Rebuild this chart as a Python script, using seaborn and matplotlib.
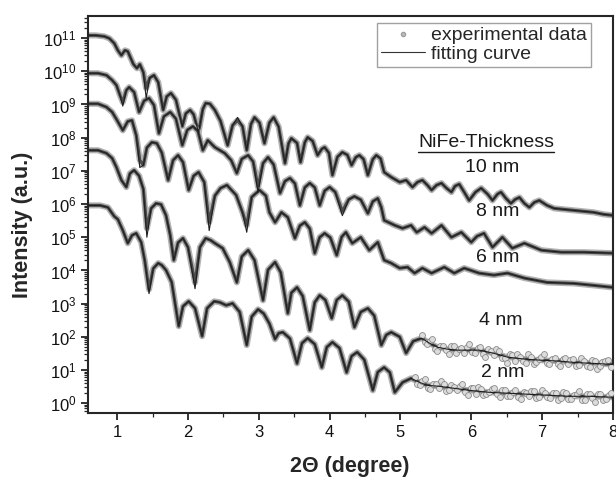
import numpy as np
import pandas as pd
import seaborn as sns
import matplotlib
matplotlib.use("Agg")
import matplotlib.pyplot as plt
from matplotlib.lines import Line2D
from matplotlib.ticker import LogLocator, NullFormatter, MultipleLocator

# 2theta (degree) and log10(intensity), top curve first
x1 = [0.59, 0.70, 0.82, 0.89, 0.96, 1.01, 1.06, 1.11, 1.15, 1.23, 1.28, 1.32, 1.37, 1.41, 1.46, 1.52,
      1.58, 1.65, 1.70, 1.76, 1.83, 1.92, 1.97, 2.03, 2.08, 2.15, 2.21, 2.25, 2.31, 2.38, 2.46, 2.56,
      2.63, 2.70, 2.77, 2.83, 2.89, 2.94, 3.01, 3.08, 3.15, 3.21, 3.28, 3.37, 3.42, 3.46, 3.54, 3.59,
      3.65, 3.69, 3.76, 3.83, 3.89, 3.93, 3.99, 4.04, 4.11, 4.18, 4.25, 4.31, 4.37, 4.42, 4.48, 4.54,
      4.61, 4.66, 4.72, 4.77, 4.87, 4.99, 5.08, 5.17, 5.24, 5.31, 5.38, 5.44, 5.51, 5.58, 5.65, 5.72,
      5.77, 5.83, 5.90, 5.97, 6.06, 6.14, 6.23, 6.30, 6.37, 6.42, 6.49, 6.56, 6.62, 6.68, 6.75, 6.82,
      6.89, 6.96, 7.07, 7.17, 7.31, 7.45, 7.59, 7.73, 7.87, 8.00]
y1 = [11.08, 11.08, 11.05, 10.99, 10.84, 10.63, 10.48, 10.63, 10.60, 10.21, 10.09, 10.21, 9.97, 9.49, 9.80, 9.88,
      9.67, 8.83, 9.24, 9.34, 9.14, 8.34, 8.73, 8.83, 8.70, 8.16, 8.86, 9.04, 9.02, 8.83, 8.50, 7.77,
      8.37, 8.52, 8.34, 7.62, 8.41, 8.61, 8.45, 7.83, 8.45, 8.61, 8.33, 7.23, 7.83, 7.98, 7.84, 7.26,
      7.86, 8.01, 7.90, 7.47, 7.66, 7.71, 7.54, 6.87, 7.42, 7.56, 7.48, 7.17, 7.41, 7.47, 7.35, 6.87,
      7.35, 7.47, 7.37, 6.96, 6.81, 6.66, 6.72, 6.51, 6.66, 6.72, 6.57, 6.42, 6.57, 6.63, 6.48, 6.36,
      6.54, 6.60, 6.36, 6.11, 6.36, 6.48, 6.30, 6.11, 6.30, 6.36, 6.17, 6.02, 6.14, 6.20, 6.02, 5.90,
      6.05, 6.11, 5.96, 5.87, 5.84, 5.81, 5.78, 5.75, 5.69, 5.66]

x2 = [0.59, 0.73, 0.85, 0.93, 0.99, 1.04, 1.08, 1.13, 1.17, 1.24, 1.31, 1.38, 1.45, 1.52, 1.59, 1.66,
      1.75, 1.83, 1.92, 1.99, 2.07, 2.14, 2.21, 2.28, 2.38, 2.52, 2.61, 2.69, 2.76, 2.85, 2.92, 2.99,
      3.06, 3.13, 3.21, 3.30, 3.37, 3.44, 3.51, 3.58, 3.65, 3.72, 3.79, 3.86, 3.93, 4.00, 4.08, 4.18,
      4.27, 4.35, 4.44, 4.54, 4.61, 4.68, 4.73, 4.77, 4.92, 5.03, 5.15, 5.23, 5.34, 5.44, 5.58, 5.72,
      5.86, 6.00, 6.08, 6.18, 6.30, 6.44, 6.58, 6.75, 6.99, 7.27, 7.59, 8.00]
y2 = [9.94, 9.94, 9.88, 9.73, 9.58, 9.28, 9.07, 9.43, 9.52, 9.37, 8.77, 9.11, 9.19, 8.98, 8.13, 8.64,
      8.77, 8.57, 7.77, 8.23, 8.34, 8.20, 7.62, 7.92, 7.71, 7.53, 7.32, 6.93, 7.36, 7.47, 7.28, 6.51,
      7.23, 7.41, 7.19, 6.33, 6.69, 6.78, 6.62, 5.96, 6.50, 6.63, 6.50, 5.96, 6.40, 6.51, 6.36, 5.78,
      6.14, 6.23, 6.13, 5.72, 6.08, 6.17, 5.90, 5.51, 5.36, 5.27, 5.36, 5.15, 5.30, 5.12, 5.36, 5.00,
      5.15, 4.85, 5.03, 5.12, 4.70, 5.00, 4.67, 4.82, 4.61, 4.55, 4.55, 4.52]

x3 = [0.59, 0.73, 0.85, 0.93, 1.00, 1.08, 1.15, 1.21, 1.27, 1.32, 1.37, 1.42, 1.49, 1.56, 1.63, 1.72,
      1.79, 1.86, 1.93, 2.01, 2.08, 2.15, 2.23, 2.30, 2.38, 2.46, 2.55, 2.68, 2.77, 2.83, 2.90, 3.01,
      3.10, 3.15, 3.23, 3.32, 3.41, 3.51, 3.58, 3.65, 3.72, 3.79, 3.86, 3.93, 4.01, 4.10, 4.17, 4.23,
      4.32, 4.44, 4.56, 4.68, 4.77, 4.87, 4.99, 5.10, 5.20, 5.31, 5.44, 5.62, 5.76, 5.90, 6.11, 6.32,
      6.51, 6.75, 7.07, 7.45, 7.73, 8.00]
y3 = [9.02, 9.02, 8.92, 8.77, 8.52, 8.22, 8.49, 8.52, 8.07, 7.32, 7.17, 7.70, 7.86, 7.83, 7.55, 6.72,
      7.32, 7.47, 7.26, 6.42, 6.85, 6.96, 6.66, 5.45, 6.25, 6.48, 6.57, 6.27, 5.75, 5.36, 6.21, 6.42,
      6.25, 5.75, 5.45, 5.75, 5.60, 4.97, 5.35, 5.45, 5.26, 4.52, 5.00, 5.12, 4.99, 4.46, 5.01, 5.15,
      4.82, 5.00, 4.61, 4.85, 4.31, 4.22, 4.07, 4.10, 3.92, 4.07, 3.92, 4.10, 3.92, 4.07, 3.92, 3.86,
      3.92, 3.77, 3.64, 3.61, 3.55, 3.49]

x4 = [0.59, 0.73, 0.85, 0.93, 0.99, 1.06, 1.13, 1.18, 1.24, 1.31, 1.37, 1.42, 1.48, 1.55, 1.62, 1.69,
      1.75, 1.80, 1.86, 1.93, 2.00, 2.10, 2.17, 2.25, 2.32, 2.38, 2.49, 2.59, 2.69, 2.76, 2.85, 2.94,
      3.06, 3.13, 3.23, 3.31, 3.41, 3.46, 3.54, 3.62, 3.72, 3.79, 3.86, 3.94, 4.03, 4.10, 4.18, 4.27,
      4.35, 4.44, 4.54, 4.63, 4.73, 4.80, 4.87, 4.99, 5.08, 5.18, 5.30, 5.41, 5.52, 5.66, 5.80, 5.97,
      6.11, 6.31, 6.51, 6.75, 6.96, 7.24, 7.45, 7.73, 8.00]
y4 = [7.62, 7.62, 7.53, 7.38, 7.11, 6.72, 6.51, 6.92, 7.02, 6.85, 6.45, 5.27, 5.87, 6.02, 5.99, 5.66,
      5.06, 4.31, 4.84, 4.97, 4.70, 3.64, 4.70, 4.97, 4.91, 4.82, 4.67, 4.25, 3.64, 4.42, 4.61, 4.31,
      3.10, 4.02, 4.25, 3.94, 2.71, 3.33, 3.49, 3.23, 2.20, 3.04, 3.25, 3.11, 2.56, 3.11, 3.25, 3.06,
      2.29, 2.75, 2.86, 2.64, 1.75, 2.06, 2.14, 2.00, 1.51, 1.87, 1.96, 1.81, 1.69, 1.63, 1.60, 1.60,
      1.60, 1.51, 1.39, 1.33, 1.30, 1.27, 1.23, 1.20, 1.17]

x5 = [0.59, 0.76, 0.87, 0.96, 1.01, 1.08, 1.15, 1.21, 1.27, 1.34, 1.39, 1.45, 1.51, 1.58, 1.63, 1.69,
      1.77, 1.87, 1.93, 2.01, 2.10, 2.20, 2.27, 2.37, 2.45, 2.54, 2.63, 2.73, 2.83, 2.90, 2.99, 3.07,
      3.15, 3.23, 3.28, 3.34, 3.44, 3.54, 3.61, 3.69, 3.79, 3.89, 3.96, 4.04, 4.14, 4.24, 4.31, 4.39,
      4.49, 4.61, 4.68, 4.77, 4.85, 4.92, 5.03, 5.15, 5.27, 5.38, 5.55, 5.76, 5.97, 6.25, 6.54, 6.82,
      7.10, 7.38, 7.66, 8.00]
y5 = [5.96, 5.96, 5.90, 5.63, 5.54, 5.21, 4.82, 5.06, 5.12, 4.85, 4.30, 3.43, 4.06, 4.22, 4.16, 4.01,
      3.65, 2.32, 2.92, 3.07, 2.86, 2.02, 2.86, 3.07, 3.04, 2.95, 3.01, 2.75, 1.75, 2.61, 2.83, 2.70,
      2.40, 1.93, 2.11, 2.14, 1.95, 1.20, 1.81, 1.96, 1.78, 1.08, 1.69, 1.84, 1.66, 0.93, 1.42, 1.54,
      1.31, 0.39, 0.94, 1.08, 0.93, 0.33, 0.63, 0.75, 0.63, 0.54, 0.51, 0.45, 0.39, 0.33, 0.30, 0.27,
      0.24, 0.21, 0.21, 0.18]

# where the fitting curve departs from the measured points: (2theta, log10 I)
fit_changes = {
    "1": [(1.41, 9.19), (2.70, 8.61)],
    "2": [(1.08, 8.95), (2.99, 6.35), (4.18, 5.65)],
    "3": [(1.32, 7.10), (2.30, 5.20), (2.83, 5.15)],
    "4": [(1.42, 5.00), (2.10, 3.45)],
    "5": [(1.45, 3.30)],
}

# scattered measured points in the noisy tails of the two thinnest films
tail4_x = [5.30, 5.34, 5.38, 5.42, 5.45, 5.49, 5.52, 5.56, 5.60, 5.64, 5.68, 5.72, 5.75, 5.79, 5.82, 5.86,
           5.90, 5.94, 5.97, 6.01, 6.05, 6.09, 6.12, 6.16, 6.20, 6.24, 6.28, 6.32, 6.35, 6.39, 6.43, 6.47,
           6.50, 6.54, 6.58, 6.62, 6.65, 6.69, 6.73, 6.77, 6.80, 6.84, 6.88, 6.92, 6.95, 6.99, 7.03, 7.07,
           7.10, 7.14, 7.18, 7.22, 7.25, 7.29, 7.33, 7.37, 7.40, 7.44, 7.48, 7.52, 7.55, 7.59, 7.63, 7.67,
           7.70, 7.74, 7.78, 7.82, 7.85, 7.89, 7.93, 7.97]
tail4_y = [2.06, 1.84, 1.80, 1.89, 1.93, 1.63, 1.57, 1.73, 1.71, 1.59, 1.48, 1.71, 1.73, 1.52, 1.62, 1.65,
           1.50, 1.70, 1.78, 1.53, 1.52, 1.65, 1.69, 1.47, 1.40, 1.62, 1.57, 1.44, 1.64, 1.57, 1.35, 1.37,
           1.22, 1.47, 1.45, 1.28, 1.47, 1.39, 1.28, 1.22, 1.47, 1.38, 1.19, 1.24, 1.32, 1.40, 1.47, 1.20,
           1.18, 1.33, 1.35, 1.18, 1.12, 1.34, 1.35, 1.18, 1.29, 1.33, 1.11, 1.15, 1.37, 1.27, 1.13, 1.10,
           1.30, 1.27, 1.04, 1.13, 1.23, 1.27, 1.29, 1.09]
tail5_x = [5.20, 5.24, 5.27, 5.31, 5.35, 5.39, 5.42, 5.46, 5.50, 5.54, 5.57, 5.61, 5.65, 5.69, 5.72, 5.76,
           5.80, 5.84, 5.87, 5.91, 5.95, 5.99, 6.02, 6.06, 6.10, 6.14, 6.17, 6.21, 6.25, 6.29, 6.32, 6.36,
           6.40, 6.44, 6.47, 6.51, 6.55, 6.59, 6.62, 6.66, 6.70, 6.74, 6.77, 6.81, 6.85, 6.89, 6.92, 6.96,
           7.00, 7.04, 7.07, 7.11, 7.15, 7.19, 7.22, 7.26, 7.30, 7.34, 7.37, 7.41, 7.45, 7.49, 7.52, 7.56,
           7.60, 7.64, 7.67, 7.71, 7.75, 7.79, 7.82, 7.86, 7.90, 7.94, 7.97]
tail5_y = [0.80, 0.59, 0.55, 0.68, 0.74, 0.45, 0.43, 0.59, 0.57, 0.47, 0.66, 0.59, 0.36, 0.39, 0.56, 0.50,
           0.39, 0.53, 0.57, 0.34, 0.25, 0.45, 0.46, 0.27, 0.48, 0.44, 0.25, 0.28, 0.35, 0.43, 0.47, 0.27,
           0.20, 0.40, 0.41, 0.23, 0.22, 0.35, 0.41, 0.19, 0.13, 0.35, 0.32, 0.21, 0.37, 0.37, 0.16, 0.18,
           0.40, 0.30, 0.19, 0.15, 0.32, 0.32, 0.11, 0.17, 0.34, 0.32, 0.13, 0.14, 0.26, 0.27, 0.36, 0.11,
           0.11, 0.29, 0.29, 0.16, 0.05, 0.29, 0.29, 0.11, 0.14, 0.24, 0.30]

labels = ["NiFe-Thickness", "10 nm", "8 nm", "6 nm", "4 nm", "2 nm"]
label_x = [6.21, 6.30, 6.37, 6.37, 6.42, 6.44]
label_y = [7.86, 7.11, 5.78, 4.40, 2.50, 0.93]

curves = {"1": (x1, y1), "2": (x2, y2), "3": (x3, y3), "4": (x4, y4), "5": (x5, y5)}

rows = []
for name, (xs, ys) in curves.items():
    fit = list(ys)
    for xv, v in fit_changes[name]:
        fit[xs.index(xv)] = v
    for xv, e, f in zip(xs, ys, fit):
        rows.append({"curve": name, "two_theta": xv, "exp": 10 ** e, "fit": 10 ** f})
df = pd.DataFrame(rows)

tails = pd.DataFrame({
    "two_theta": tail4_x + tail5_x,
    "exp": [10 ** v for v in tail4_y + tail5_y],
})

sns.set_style("ticks")
plt.rcParams["font.family"] = ["Liberation Sans", "DejaVu Sans"]
plt.rcParams["mathtext.fontset"] = "custom"
plt.rcParams["mathtext.rm"] = "Liberation Sans"
plt.rcParams["mathtext.it"] = "Liberation Sans:italic"

fig = plt.figure(figsize=(6.16, 4.79), dpi=100)
ax = fig.add_axes([0.143, 0.138, 0.852, 0.829])
ax.set_yscale("log")

# measured data: a dense string of grey circles, drawn as a grey band
for name in curves:
    sub = df[df["curve"] == name]
    sns.lineplot(data=sub, x="two_theta", y="exp", ax=ax, sort=False, color="#b4b4b4",
                 lw=4.4, estimator=None, legend=False, solid_joinstyle="round")
    sns.lineplot(data=sub, x="two_theta", y="exp", ax=ax, sort=False, color="#4a4a4a",
                 lw=2.2, estimator=None, legend=False, solid_joinstyle="round")
sns.scatterplot(data=tails, x="two_theta", y="exp", ax=ax, s=18, marker="o",
                facecolor="#dcdcdc", edgecolor="#8a8a8a", linewidth=0.6, legend=False, zorder=3)
for name in curves:
    sub = df[df["curve"] == name]
    sns.lineplot(data=sub, x="two_theta", y="fit", ax=ax, sort=False, color="#1e1e1e",
                 lw=0.8, estimator=None, legend=False, zorder=4, solid_joinstyle="round")

ax.set_xlim(0.59, 8.0)
ax.set_ylim(10 ** -0.29, 10 ** 11.67)
ax.xaxis.set_major_locator(MultipleLocator(1))
ax.xaxis.set_minor_locator(MultipleLocator(0.5))
ax.yaxis.set_major_locator(LogLocator(base=10, numticks=20))
ax.yaxis.set_minor_locator(LogLocator(base=10, subs=np.arange(2, 10), numticks=200))
ax.yaxis.set_minor_formatter(NullFormatter())
ax.tick_params(axis="both", which="major", direction="out", length=5, width=1.2,
               labelsize=12, colors="#111111")
ax.tick_params(axis="both", which="minor", direction="out", length=3, width=0.9)
for sp in ax.spines.values():
    sp.set_linewidth(1.5)
ax.set_xlabel("")
ax.set_ylabel("")

fig.text(0.036, 0.53, "Intensity (a.u.)", rotation=90, ha="center", va="center",
         fontsize=15.5, fontweight="bold")
fig.text(0.568, 0.026, "2\u0398 (degree)", ha="center", va="center",
         fontsize=15.5, fontweight="bold")

texts = []
for lab, lx, ly in zip(labels, label_x, label_y):
    texts.append(ax.text(lx, 10 ** ly, lab, ha="center", va="center", fontsize=14, color="#1a1a1a"))

handles = [
    Line2D([], [], marker="o", ls="none", markersize=3, markerfacecolor="#bdbdbd",
           markeredgecolor="#a0a0a0", label="experimental data"),
    Line2D([], [], color="#333333", lw=0.8, label="fitting curve"),
]
leg = ax.legend(handles=handles, loc="upper right", bbox_to_anchor=(0.958, 0.982),
                borderaxespad=0, fontsize=14, frameon=True, fancybox=False,
                handlelength=2.3, handletextpad=0.3, borderpad=0.2, labelspacing=0.05)
leg.get_frame().set_edgecolor("#8a8a8a")
leg.get_frame().set_linewidth(1.0)

# underline for the NiFe-Thickness heading
fig.canvas.draw()
bb = texts[0].get_window_extent()
inv = fig.transFigure.inverted()
(ux0, uy0), (ux1, _) = inv.transform([(bb.x0, bb.y0 - 1), (bb.x1, bb.y0)])
fig.add_artist(Line2D([ux0, ux1], [uy0, uy0], color="#1a1a1a", lw=1.0))

fig.savefig("out.png", dpi=100)
